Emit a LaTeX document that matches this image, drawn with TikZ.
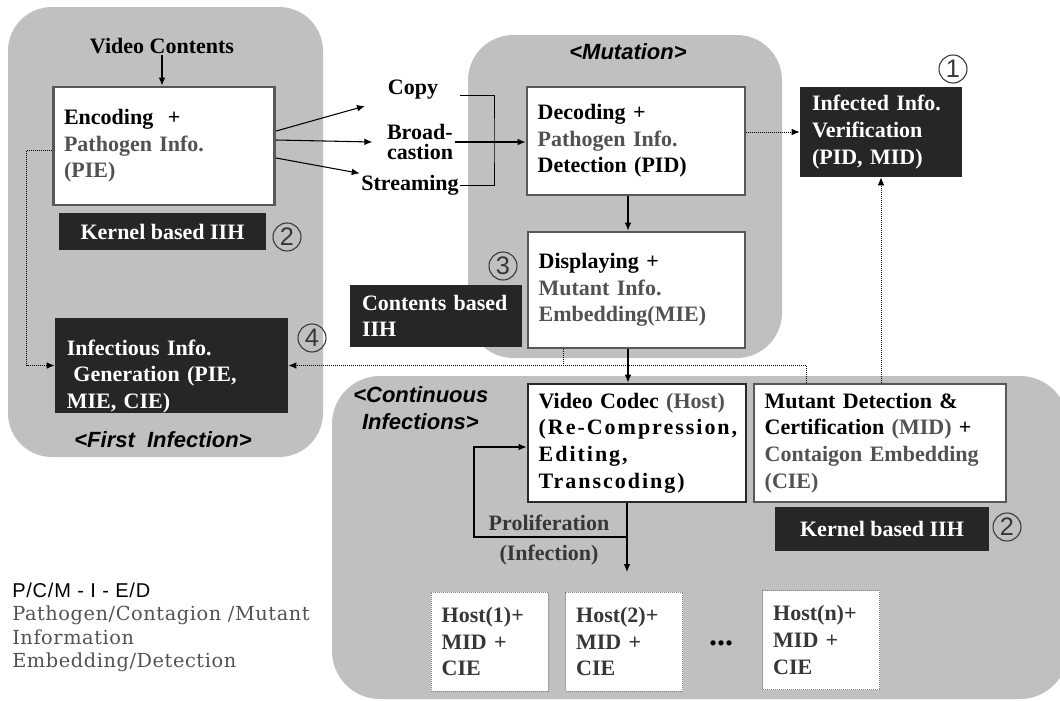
\documentclass[tikz,border=0pt]{standalone}
\usepackage{fontspec}
\setmainfont{Liberation Serif}
\newfontfamily\labelsans{Liberation Sans}
\newfontfamily\legendserif{DejaVu Serif}
\usepackage{tikz}
\usetikzlibrary{arrows.meta,calc}

\definecolor{stagegray}{RGB}{192,192,192}
\definecolor{rimgray}{RGB}{88,88,88}
\definecolor{rimdark}{RGB}{40,40,40}
\definecolor{inkgray}{RGB}{82,82,82}
\definecolor{iihblack}{RGB}{38,38,38}
\definecolor{numgray}{RGB}{55,55,55}

\newcommand{\boxfont}{\bfseries\fontsize{16.5}{20}\selectfont}
\newcommand{\gr}[1]{\textcolor{inkgray}{#1}}
\newcommand{\spaced}[1]{{\addfontfeature{LetterSpace=9}#1}}

\tikzset{
  stage/.style={fill=stagegray},
  whitebox/.style={draw=rimgray, line width=2.2pt, fill=white, align=left, inner xsep=8pt, inner ysep=0pt, font=\boxfont},
  iihbox/.style={fill=iihblack, text=white, inner xsep=9pt, inner ysep=0pt, font=\boxfont},
  hostbox/.style={draw=gray, line width=0.75pt, dash pattern=on 0.75pt off 0.75pt, fill=white, align=left, inner xsep=8pt, inner ysep=0pt, font=\boxfont, text=numgray},
  flowlabel/.style={inner sep=1pt, font=\boxfont, align=left},
  stagetitle/.style={inner sep=0pt, font=\labelsans\bfseries\itshape\fontsize{16.5}{20}\selectfont},
  circnum/.style={circle, draw=numgray, line width=0.8pt, inner sep=0pt, minimum size=21pt, text=numgray, font=\labelsans\fontsize{19}{19}\selectfont},
  arr/.style={line width=0.8pt, -{Latex[length=6pt,width=5pt]}},
  dotline/.style={line width=0.75pt, dash pattern=on 0.75pt off 0.75pt},
  dotarr/.style={dotline, -{Latex[length=6pt,width=5pt]}},
}

\begin{document}
\begin{tikzpicture}[x=0.75pt,y=0.75pt,yscale=-1,xscale=1]
\useasboundingbox (0,0) rectangle (1060,700);

%Shapes: the three stages
\fill [stage, rounded corners=33pt] (8,7) rectangle (323,457);
\fill [stage, rounded corners=34pt] (468,35) rectangle (782,358);
\fill [stage, rounded corners=36pt] (332,376) rectangle (1068,699);

% Text Node: first infection
\node [flowlabel] (vc) at (162,46) {Video Contents};
\node [whitebox, text width=150pt, minimum height=88.5pt] (enc) at (164,146) {Encoding\ \ +\\ \gr{Pathogen Info.}\\ \gr{(PIE)}};
\node [iihbox, minimum width=155pt, minimum height=27.75pt] (kern1) at (162.5,231.5) {Kernel based IIH};
\node [circnum] (n2a) at (287,237) {2};
\node [iihbox, align=left, text width=157pt, minimum height=66.75pt] (gen) at (171.5,365.5) {\rule{0pt}{27.8pt}Infectious Info.\\ \hspace{0.3em}Generation (PIE,\\ MIE, CIE)};
\node [circnum] (n4) at (312,338) {4};
\node [stagetitle] (first) at (163,440) {<First\ \ Infection>};

% Text Node: channels
\node [flowlabel] (copy) at (413,90) {Copy};
\node [flowlabel, font=\bfseries\fontsize{16.5}{15.5}\selectfont] (broad) at (420,142) {Broad-\\castion};
\node [flowlabel] (strm) at (410,185) {Streaming};

% Text Node: mutation
\node [stagetitle] (mut) at (628,52) {<Mutation>};
\node [whitebox, text width=147.5pt, minimum height=81pt] (dec) at (636,141) {Decoding +\\ \gr{Pathogen Info.}\\ Detection (PID)};
\node [whitebox, text width=146.75pt, minimum height=87pt] (disp) at (636.5,290) {Displaying +\\ \gr{Mutant Info.}\\ \gr{Embedding(MIE)}};
\node [circnum] (n3) at (503,266) {3};
\node [iihbox, align=left, text width=111pt, minimum height=46.5pt] (cont) at (436,316) {Contents based\\ IIH};
\node [iihbox, align=left, text width=103.5pt, minimum height=67.5pt] (ver) at (881,132) {Infected Info.\\ Verification\\ (PID, MID)};
\node [circnum] (n1) at (953,69) {1};

% Text Node: continuous infections
\node [stagetitle, align=left, anchor=west] (conttitle) at (353,408) {<Continuous\\ \hspace{0.4em}Infections>};
\node [whitebox, draw=rimdark, text width=147.5pt, minimum height=88.5pt] (codec) at (637,443) {Video Codec \gr{(Host)}\\ \spaced{(Re-Compression,}\\ \spaced{Editing,}\\ \spaced{Transcoding)}};
\node [whitebox, text width=173pt, minimum height=88.5pt] (mdet) at (880,443) {Mutant Detection \&\\ Certification \gr{(MID)} +\\ \gr{Contaigon Embedding}\\ \gr{(CIE)}};
\node [iihbox, minimum width=160.5pt, minimum height=33pt] (kern2) at (882,529) {Kernel based IIH};
\node [circnum] (n2b) at (1007,527) {2};
\node [flowlabel, text=numgray] (prolif) at (549,523) {Proliferation};
\node [flowlabel, text=numgray] (infect) at (549,555) {(Infection)};
\node [hostbox, text width=71.75pt, minimum height=74.25pt] (host1) at (489.5,641.5) {Host(1)+\\ MID +\\ CIE};
\node [hostbox, text width=71.75pt, minimum height=74.25pt] (host2) at (624,641.5) {Host(2)+\\ MID +\\ CIE};
\node [flowlabel, font=\bfseries\fontsize{24}{24}\selectfont] (dots) at (721,643) {...};
\node [hostbox, text width=71.75pt, minimum height=74.25pt] (hostn) at (821,640) {Host(n)+\\ MID +\\ CIE};

% Text Node: legend
\node [anchor=west, inner sep=0pt, font=\labelsans\fontsize{15}{15}\selectfont\addfontfeature{LetterSpace=4}] (legendhead) at (12,590) {P/C/M - I - E/D};
\node [anchor=north west, inner sep=0pt, align=left, text=inkgray, font=\legendserif\fontsize{14.5}{17.6}\selectfont\addfontfeature{LetterSpace=3}] (legendbody) at (12,606) {Pathogen/Contagion /Mutant\\ Information\\ Embedding/Detection};

%Straight Lines
\coordinate (tocopy) at (365,106);
\coordinate (merge) at (494,141);
\coordinate (split) at (627,537);
\coordinate (spread) at (627,572);
\coordinate (loop) at (474,447);
\draw [arr] (vc) -- (vc |- enc.north);
\draw [arr] ($(enc.east)+(0,-15)$) -- (tocopy);
\draw [arr] ($(enc.east)+(0,-6)$) -- ($(broad.west)+(-13,0)$);
\draw [arr] ($(enc.east)+(0,12)$) -- (strm.north west);
\draw ($(copy.base east)+(20,0)$) -| (merge) |- (strm.east);
\draw [arr] (broad.east) -- (broad.east -| dec.west);
\draw [arr] ($(dec.south)+(-8,0)$) -- ($(disp.north)+(-8.5,0)$);
\draw [arr] ($(disp.south)+(-8.5,0)$) -- ($(codec.north)+(-9,0)$);
\draw [arr] (codec.south -| split) -- (spread);
\draw [arr] (split) -| (loop) -- (loop -| codec.west);

%Dotted Lines
\draw [dotarr] (dec.east |- ver.west) -- (ver.west);
\draw [dotarr] (mdet.north -| ver.south) -- (ver.south);
\draw [dotarr] ($(enc.west)+(0,4)$) -| ($(gen.west)+(-28,0)$) -- (gen.west);
\draw [dotarr] ($(mdet.north west)+(54,0)$) |- (gen.east);
\draw [dotline] ($(disp.south west)+(37,0)$) -- ($(disp.south west)+(37,17)$);

\end{tikzpicture}
\end{document}
